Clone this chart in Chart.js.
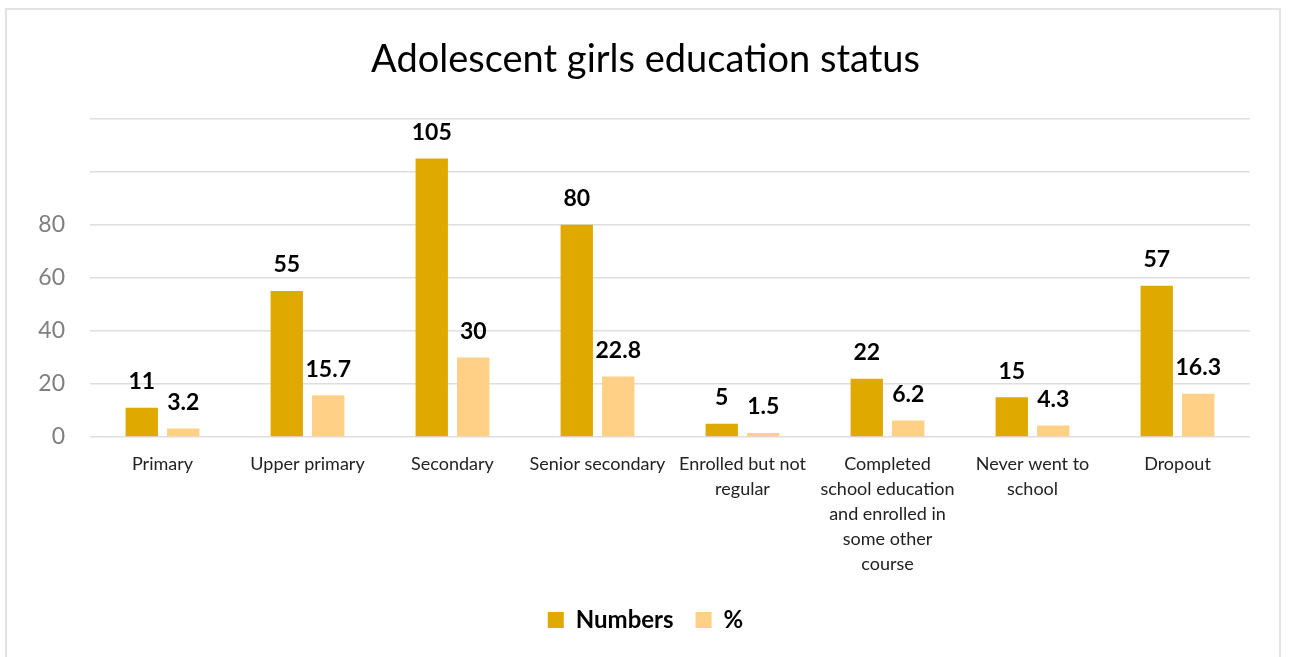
<!DOCTYPE html>
<html>
<head>
<meta charset="utf-8">
<script src="https://cdn.jsdelivr.net/npm/chart.js@4"></script>
<style>
  html, body { margin: 0; padding: 0; background: #fff; }
  #wrap { position: relative; width: 1291px; height: 657px; overflow: hidden; }
  #frame { position: absolute; left: 5px; top: 8px; width: 1276px; height: 700px; border: 2px solid #e3e3e3; box-sizing: border-box; }
  #chart { position: absolute; left: 0; top: 0; }
</style>
</head>
<body>
<div id="wrap">
  <div id="frame"></div>
  <canvas id="chart" width="1291" height="657"></canvas>
</div>
<script>
// ===================
// Dados
// ===================
const categorias = [
  "Primary",
  "Upper primary",
  "Secondary",
  "Senior secondary",
  ["Enrolled but not", "regular"],
  ["Completed", "school education", "and enrolled in", "some other", "course"],
  ["Never went to", "school"],
  "Dropout",
];
const numeros = [11, 55, 105, 80, 5, 22, 15, 57];
const percentuais = [3.2, 15.7, 30, 22.8, 1.5, 6.2, 4.3, 16.3];
const ticksY = [0, 20, 40, 60, 80];

const fonte = "Lato, 'Open Sans', sans-serif";

// rótulos de valor acima das barras
const rotulosPlugin = {
  id: "rotulos",
  afterDatasetsDraw(chart) {
    const ctx = chart.ctx;
    ctx.save();
    ctx.font = "bold 23px " + fonte;
    ctx.fillStyle = "#000";
    ctx.textAlign = "center";
    ctx.textBaseline = "middle";
    chart.data.datasets.forEach((ds, i) => {
      chart.getDatasetMeta(i).data.forEach((bar, j) => {
        ctx.fillText(String(ds.data[j]), bar.x, bar.y - 26);
      });
    });
    ctx.restore();
  },
};

new Chart(document.getElementById("chart"), {
  type: "bar",
  data: {
    labels: categorias,
    datasets: [
      {
        label: "Numbers",
        data: numeros,
        backgroundColor: "#E0A900",
        categoryPercentage: 0.572,
        barPercentage: 0.78,
      },
      {
        label: "%",
        data: percentuais,
        backgroundColor: "#FFD085",
        categoryPercentage: 0.572,
        barPercentage: 0.78,
      },
    ],
  },
  options: {
    responsive: false,
    animation: false,
    layout: { padding: { left: 5, right: 5, top: 0, bottom: 15 } },
    plugins: {
      title: {
        display: true,
        text: "Adolescent girls education status",
        color: "#000",
        font: { family: fonte, size: 38, weight: "normal" },
        padding: { top: 37, bottom: 36 },
      },
      legend: {
        position: "bottom",
        labels: {
          color: "#000",
          font: { family: fonte, size: 24, weight: "bold" },
          boxWidth: 16,
          boxHeight: 16,
          padding: 22,
        },
      },
      tooltip: { enabled: false },
    },
    scales: {
      x: {
        grid: { display: false },
        border: { display: false },
        ticks: {
          color: "#222",
          font: { family: fonte, size: 18, lineHeight: 1.39 },
          autoSkip: false,
          maxRotation: 0,
          padding: 7,
        },
        afterFit: (s) => { s.height = 149; },
      },
      y: {
        min: 0,
        max: 120,
        grid: { color: "#dedede", lineWidth: 1.5, drawTicks: false },
        border: { display: false },
        afterBuildTicks: (s) => {
          s.ticks = [0, 20, 40, 60, 80, 100, 120].map((v) => ({ value: v }));
        },
        ticks: {
          color: "#7f7f7f",
          font: { family: fonte, size: 23 },
          padding: 25,
          callback: (v) => (ticksY.includes(v) ? v : ""),
        },
        afterFit: (s) => { s.width = 85; },
      },
      // eixo vazio à direita, só para reservar a margem
      margem: {
        position: "right",
        grid: { display: false },
        border: { display: false },
        ticks: { display: false },
        afterFit: (s) => { s.width = 36; },
      },
    },
  },
  plugins: [rotulosPlugin],
});
</script>
</body>
</html>
